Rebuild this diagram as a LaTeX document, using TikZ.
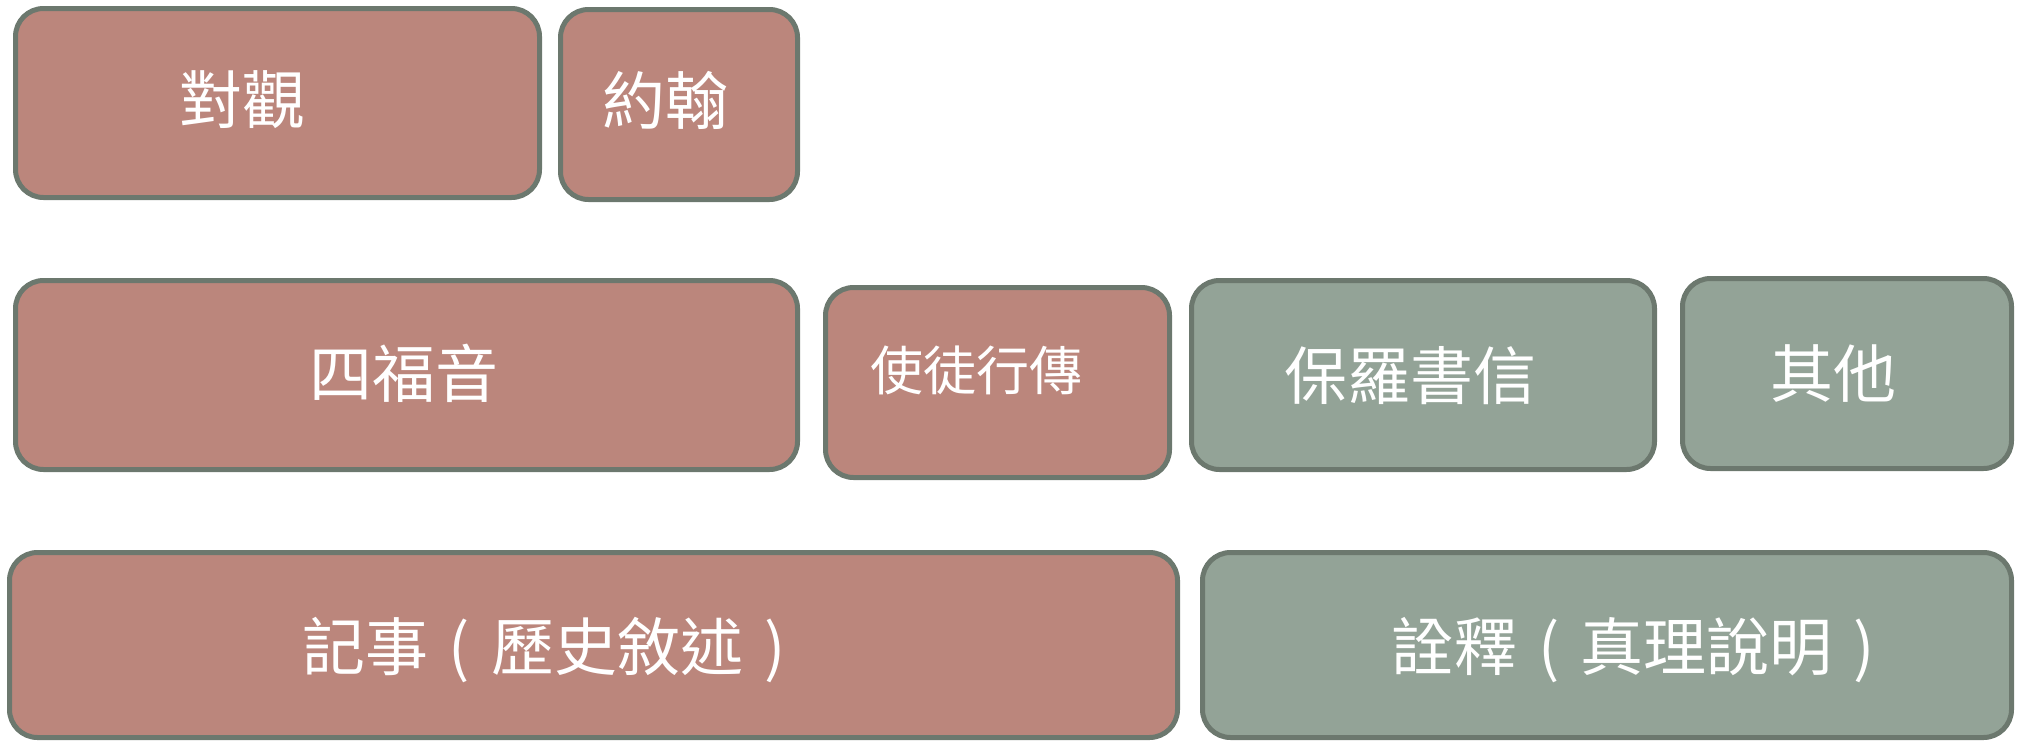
\documentclass[tikz,border=0pt]{standalone}
\usepackage{fontspec}
\newfontfamily\cjk{Noto Sans CJK TC}
\definecolor{boxred}{HTML}{BB867C}
\definecolor{boxgreen}{HTML}{93A397}
\definecolor{boxedge}{HTML}{6C786E}
\newcommand{\cparen}[1]{\makebox[1em][c]{\smash{#1}}}
\begin{document}
\begin{tikzpicture}[x=1pt,y=-1pt,
  box/.style={draw=boxedge, line width=5pt, rounded corners=28pt, inner sep=0pt},
  redbox/.style={box, fill=boxred},
  greenbox/.style={box, fill=boxgreen},
  lbl/.style={text=white, font=\cjk\fontsize{63}{63}\selectfont, inner sep=0pt, anchor=west},
  smalllbl/.style={lbl, font=\cjk\fontsize{53}{53}\selectfont}]
\useasboundingbox (0,0) rectangle (2022,742);
% boxes
\node[redbox, minimum width=524pt, minimum height=189pt] (b1) at (277.5,103) {};
\node[redbox, minimum width=237pt, minimum height=190pt] (b2) at (679,104.5) {};
\node[redbox, minimum width=782pt, minimum height=189pt] (b3) at (406.5,375) {};
\node[redbox, minimum width=344pt, minimum height=190pt] (b4) at (997.5,382.5) {};
\node[greenbox, minimum width=463pt, minimum height=189pt] (b5) at (1423,375) {};
\node[greenbox, minimum width=329pt, minimum height=190pt] (b6) at (1847,373.5) {};
\node[redbox, minimum width=1168pt, minimum height=185pt] (b7) at (593.5,645) {};
\node[greenbox, minimum width=809pt, minimum height=185pt] (b8) at (1607,645) {};
% labels
\node[lbl] (t1) at (179,100) {對觀};
\node[lbl] (t2) at (602,100) {約翰};
\node[lbl] (t3) at (309,373) {四福音};
\node[smalllbl] (t4) at (870,370) {使徒行傳};
\node[lbl] (t5) at (1284,376) {保羅書信};
\node[lbl] (t6) at (1770,374) {其他};
\node[lbl] (t7) at (302,646) {記事\cparen{(}歷史敘述\cparen{)}};
\node[lbl] (t8) at (1391,647) {詮釋\cparen{(}真理說明\cparen{)}};
\end{tikzpicture}
\end{document}
